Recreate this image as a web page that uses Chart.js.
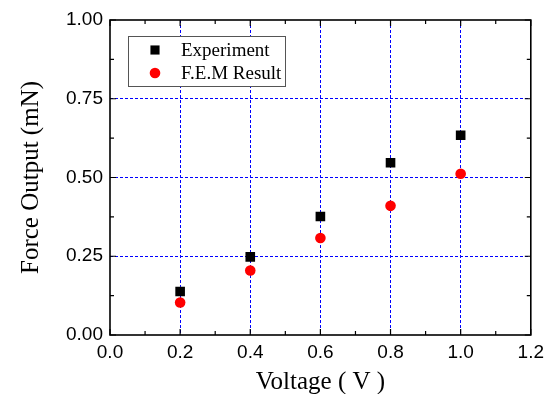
<!DOCTYPE html>
<html lang="en-US">
<head>
  <meta charset="utf-8">
  <title>Force output vs voltage</title>
  <script src="https://cdn.jsdelivr.net/npm/chart.js@4.4.1/dist/chart.umd.min.js"></script>
  <style>
    html, body { margin: 0; padding: 0; background: #fff; }
  </style>
</head>
<body>
  <canvas id="chart" width="550" height="394"></canvas>
  <script>
    // values
    const voltage = [0.2, 0.4, 0.6, 0.8, 1.0];
    const experiment = [0.138, 0.248, 0.376, 0.547, 0.634];
    const femResult = [0.103, 0.205, 0.308, 0.410, 0.512];
    const seriesNames = ['Experiment', 'F.E.M Result'];

    const toPoints = (ys) => voltage.map((x, i) => ({ x, y: ys[i] }));

    // blue dashed grid everywhere except on the frame itself
    const gridColor = (ctx) => {
      const v = ctx.tick && ctx.tick.value;
      const s = ctx.scale;
      if (Math.abs(v - s.min) < 1e-9 || Math.abs(v - s.max) < 1e-9) return 'rgba(0,0,0,0)';
      return '#0000ff';
    };

    // box, inward ticks (both sides) and the boxed legend
    const framePlugin = {
      id: 'frame',
      afterDraw(chart) {
        const { ctx, chartArea: a, scales } = chart;
        ctx.save();
        ctx.strokeStyle = '#000';
        ctx.lineWidth = 1.6;
        ctx.strokeRect(a.left, a.top, a.right - a.left, a.bottom - a.top);

        ctx.lineWidth = 1.2;
        ctx.beginPath();
        for (let i = 0; i <= 12; i++) {
          const x = scales.x.getPixelForValue(i / 10);
          const len = i % 2 === 0 ? 6 : 4;
          ctx.moveTo(x, a.bottom); ctx.lineTo(x, a.bottom - len);
          ctx.moveTo(x, a.top); ctx.lineTo(x, a.top + len);
        }
        for (let i = 0; i <= 8; i++) {
          const y = scales.y.getPixelForValue(i * 0.125);
          const len = i % 2 === 0 ? 6 : 4;
          ctx.moveTo(a.left, y); ctx.lineTo(a.left + len, y);
          ctx.moveTo(a.right, y); ctx.lineTo(a.right - len, y);
        }
        ctx.stroke();

        // legend
        const lx = a.left + 18, ly = a.top + 16, lw = 157, lh = 50;
        ctx.fillStyle = '#fff';
        ctx.fillRect(lx, ly, lw, lh);
        ctx.strokeStyle = '#555';
        ctx.lineWidth = 1;
        ctx.strokeRect(lx + 0.5, ly + 0.5, lw, lh);
        ctx.font = '19px "Liberation Serif", "Times New Roman", serif';
        ctx.textBaseline = 'middle';
        chart.data.datasets.forEach((ds, i) => {
          const cy = ly + 14 + i * 23;
          ctx.fillStyle = ds.backgroundColor;
          ctx.beginPath();
          if (ds.pointStyle === 'rect') {
            const h = ds.pointRadius * Math.SQRT1_2 * 0.95;
            ctx.rect(lx + 27 - h, cy - h, 2 * h, 2 * h);
          } else {
            ctx.arc(lx + 27, cy, ds.pointRadius, 0, Math.PI * 2);
          }
          ctx.fill();
          ctx.fillStyle = '#000';
          ctx.fillText(ds.label, lx + 53, cy + 1);
        });
        ctx.restore();
      }
    };

    const tickFont = { family: '"Liberation Sans", Arial, sans-serif', size: 19 };
    const titleFont = { family: '"Liberation Serif", "Times New Roman", serif', size: 25 };

    new Chart(document.getElementById('chart'), {
      type: 'scatter',
      data: {
        datasets: [
          {
            label: seriesNames[0],
            data: toPoints(experiment),
            pointStyle: 'rect',
            pointRadius: 6.8,
            backgroundColor: '#000',
            borderColor: '#000',
            borderWidth: 0
          },
          {
            label: seriesNames[1],
            data: toPoints(femResult),
            pointStyle: 'circle',
            pointRadius: 5.3,
            backgroundColor: '#ff0000',
            borderColor: '#ff0000',
            borderWidth: 0
          }
        ]
      },
      options: {
        responsive: false,
        animation: false,
        maintainAspectRatio: false,
        layout: { padding: { left: 0, top: 20, right: 15, bottom: 0 } },
        plugins: { legend: { display: false }, tooltip: { enabled: false } },
        scales: {
          x: {
            type: 'linear',
            min: 0, max: 1.2,
            border: { display: false, dash: [3, 2] },
            grid: { color: gridColor, lineWidth: 1, drawTicks: false },
            ticks: { stepSize: 0.2, color: '#000', font: tickFont, padding: 6,
              minRotation: 0, maxRotation: 0, autoSkip: false,
              callback: (v) => v.toFixed(1) },
            title: { display: true, text: 'Voltage ( V )', color: '#000', font: titleFont,
              padding: { top: 0, bottom: -3 } },
            afterFit: (s) => { s.height = 59; }
          },
          y: {
            type: 'linear',
            min: 0, max: 1,
            border: { display: false, dash: [3, 2] },
            grid: { color: gridColor, lineWidth: 1, drawTicks: false },
            ticks: { stepSize: 0.25, color: '#000', font: tickFont, padding: 7,
              autoSkip: false,
              callback: (v) => v.toFixed(2) },
            title: { display: true, text: 'Force Output (mN)', color: '#000', font: titleFont,
              padding: { top: 16, bottom: 0 } },
            afterFit: (s) => { s.width = 110; }
          }
        }
      },
      plugins: [framePlugin]
    });
  </script>
</body>
</html>
